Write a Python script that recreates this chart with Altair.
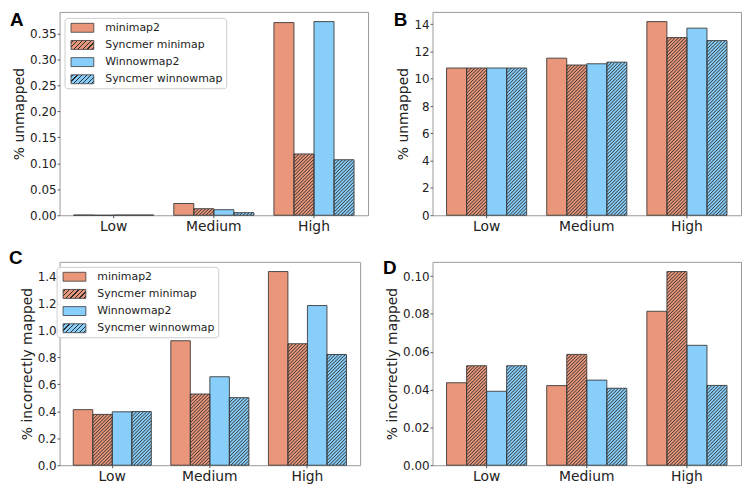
import altair as alt
import pandas as pd
from urllib.parse import quote

levels = ["Low", "Medium", "High"]
series = ["minimap2", "Syncmer minimap", "Winnowmap2", "Syncmer winnowmap"]

# Panel A: % unmapped
a_minimap2 = [0.0005, 0.0226, 0.3707]
a_syncmer_minimap = [0.0, 0.0126, 0.118]
a_winnowmap2 = [0.0005, 0.0107, 0.3726]
a_syncmer_winnowmap = [0.0005, 0.005, 0.1068]

# Panel B: % unmapped
b_minimap2 = [10.79, 11.51, 14.19]
b_syncmer_minimap = [10.79, 11.01, 13.02]
b_winnowmap2 = [10.79, 11.10, 13.71]
b_syncmer_winnowmap = [10.79, 11.22, 12.80]

# Panel C: % incorrectly mapped
c_minimap2 = [0.412, 0.923, 1.436]
c_syncmer_minimap = [0.377, 0.528, 0.901]
c_winnowmap2 = [0.396, 0.656, 1.184]
c_syncmer_winnowmap = [0.398, 0.501, 0.821]

# Panel D: % incorrectly mapped
d_minimap2 = [0.0436, 0.0421, 0.0814]
d_syncmer_minimap = [0.0526, 0.0586, 0.1024]
d_winnowmap2 = [0.0391, 0.0450, 0.0634]
d_syncmer_winnowmap = [0.0526, 0.0407, 0.0422]

SALMON = "#E9967A"
BLUE = "#87CEFA"
EDGE = "#3a3a3a"
HATCH = "#2e2e2e"
FONT = "DejaVu Sans"


def frame(*cols):
    rows = []
    for s, vals in zip(series, cols):
        for lv, v in zip(levels, vals):
            rows.append({"level": lv, "series": s, "value": v})
    return pd.DataFrame(rows)


def hatch_uri(base):
    p = 2.4
    svg = (
        "<svg xmlns='http://www.w3.org/2000/svg' width='100%' height='100%'>"
        f"<defs><pattern id='h' patternUnits='userSpaceOnUse' width='{p}' height='{p}' "
        "patternTransform='rotate(45)'>"
        f"<rect width='{p}' height='{p}' fill='{base}'/>"
        f"<line x1='{p/2}' y1='0' x2='{p/2}' y2='{p}' stroke='{HATCH}' stroke-width='0.7'/>"
        "</pattern></defs>"
        "<rect width='100%' height='100%' fill='url(#h)'/></svg>"
    )
    return "data:image/svg+xml;charset=utf-8," + quote(svg)


def stripe_expr(base):
    w, h = 23.0, 9.0
    k = (w + h) / (w * w + h * h)
    n, d = 7, 0.02
    stops = [(0.0, base)]
    for i in range(n):
        c = (i + 0.5) / n
        stops += [(c - d, base), (c - d, HATCH), (c + d, HATCH), (c + d, base)]
    stops.append((1.0, base))
    s = ",".join(f"{{offset:{o:.4f},color:'{col}'}}" for o, col in stops)
    return alt.ExprRef(
        expr=f"{{gradient:'linear',x1:0,y1:0,x2:{k*w:.4f},y2:{k*h:.4f},stops:[{s}]}}"
    )


# 23 x 9 px legend patch for a 13 px symbol
SYMBOL = "M-1,-0.692H2.538V0.692H-1Z"


def panel(df, ticks, fmt, ytitle, letter, lx, ly, width, legend_xy=None):
    ymax = float(df["value"].max()) * 1.05
    fill_scale = alt.Scale(
        domain=series, range=[SALMON, stripe_expr(SALMON), BLUE, stripe_expr(BLUE)]
    )
    if legend_xy is not None:
        legend = alt.Legend(
            title=None, orient="none", legendX=legend_xy[0], legendY=legend_xy[1],
            symbolType=SYMBOL, symbolSize=169, symbolStrokeColor=EDGE,
            symbolStrokeWidth=0.8, symbolOpacity=1, symbolOffset=3,
            labelFont=FONT, labelFontSize=11, labelColor="#222", labelOffset=21,
            rowPadding=3.3, padding=3, fillColor="rgba(255,255,255,0.85)",
            strokeColor="#cccccc", cornerRadius=3,
        )
    else:
        legend = None
    base = alt.Chart(df).encode(
        x=alt.X(
            "level:N", sort=levels,
            scale=alt.Scale(domain=levels, paddingInner=0.2, paddingOuter=0.14),
            axis=alt.Axis(title=None, labelAngle=0, labelFontSize=14, labelPadding=2),
        ),
        xOffset=alt.XOffset(
            "series:N", sort=series,
            scale=alt.Scale(domain=series, paddingInner=0, paddingOuter=0),
        ),
        y=alt.Y(
            "value:Q",
            scale=alt.Scale(domain=[0, ymax], nice=False, zero=True),
            axis=alt.Axis(values=ticks, format=fmt, title=ytitle),
        ),
    )
    bars = base.mark_bar(strokeWidth=0).encode(
        fill=alt.Fill("series:N", scale=fill_scale, legend=legend)
    )
    hatch_s = base.transform_filter(alt.datum.series == "Syncmer minimap").mark_image(
        aspect=False
    ).encode(url=alt.value(hatch_uri(SALMON)))
    hatch_w = base.transform_filter(alt.datum.series == "Syncmer winnowmap").mark_image(
        aspect=False
    ).encode(url=alt.value(hatch_uri(BLUE)))
    outline = base.mark_bar(fillOpacity=0, stroke=EDGE, strokeWidth=0.9)
    tag = alt.Chart(pd.DataFrame({"letter": [letter]})).mark_text(
        x=lx, y=ly, align="left", baseline="alphabetic", fontSize=19,
        fontWeight="bold", font="Liberation Sans", color="black",
    ).encode(text="letter:N")
    return alt.layer(bars, hatch_s, hatch_w, outline, tag).properties(
        width=width, height=205
    )


pa = panel(frame(a_minimap2, a_syncmer_minimap, a_winnowmap2, a_syncmer_winnowmap),
           [0, 0.05, 0.10, 0.15, 0.20, 0.25, 0.30, 0.35], ".2f", "% unmapped",
           "A", -50, 14, 311, legend_xy=(5, 6))
pb = panel(frame(b_minimap2, b_syncmer_minimap, b_winnowmap2, b_syncmer_winnowmap),
           [0, 2, 4, 6, 8, 10, 12, 14], "d", "% unmapped",
           "B", -39, 14, 311)
pc = panel(frame(c_minimap2, c_syncmer_minimap, c_winnowmap2, c_syncmer_winnowmap),
           [0, 0.2, 0.4, 0.6, 0.8, 1.0, 1.2, 1.4], ".1f", "% incorrectly mapped",
           "C", -51, 2, 303, legend_xy=(-3, 5))
pd_ = panel(frame(d_minimap2, d_syncmer_minimap, d_winnowmap2, d_syncmer_winnowmap),
            [0, 0.02, 0.04, 0.06, 0.08, 0.10], ".2f", "% incorrectly mapped",
            "D", -50, 12, 311)

chart = (
    alt.concat(pa, pb, pc, pd_, columns=2, spacing={"row": 47, "column": 65}, bounds="flush")
    .resolve_scale(fill="independent", y="independent", x="independent", xOffset="independent")
    .resolve_legend(fill="independent")
    .properties(padding=0)
    .configure_view(stroke="#999999", strokeWidth=1)
    .configure_axis(
        labelFont=FONT, titleFont=FONT, labelColor="#222", titleColor="#222",
        tickColor="#555", tickSize=2.5, domain=False, grid=False, labelPadding=1,
        titleFontWeight="normal", titleFontSize=14, labelFontSize=12, titlePadding=3,
    )
)

chart.save("out.html", embed_options={"renderer": "svg", "actions": False})
